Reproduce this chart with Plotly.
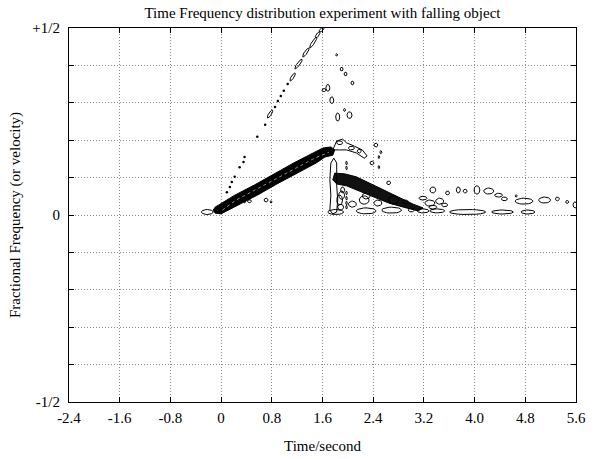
import numpy as np
import plotly.graph_objects as go

# ---------------- data (in axis units) ----------------
x_ticks = [-2.4, -1.6, -0.8, 0, 0.8, 1.6, 2.4, 3.2, 4.0, 4.8, 5.6]
x_tick_text = ["-2.4", "-1.6", "-0.8", "0", "0.8", "1.6", "2.4", "3.2", "4.0", "4.8", "5.6"]
y_ticks = [-0.5, -0.4, -0.3, -0.2, -0.1, 0, 0.1, 0.2, 0.3, 0.4, 0.5]
y_tick_text = ["-1/2", "", "", "", "", "0", "", "", "", "", "+1/2"]

# main rising ridge (outer contour)
ridge_x = [-0.094, 0.215, 0.524, 0.834, 1.144, 1.453, 1.608, 1.732, 1.793,
           1.762, 1.639, 1.500, 1.190, 0.881, 0.571, 0.262, -0.002, -0.094, -0.125, -0.094]
ridge_y = [0.021, 0.053, 0.080, 0.110, 0.139, 0.166, 0.179, 0.182, 0.174,
           0.160, 0.155, 0.139, 0.112, 0.083, 0.053, 0.027, 0.003, 0.005, 0.013, 0.021]
ridge_mid_x = [0.02, 0.238, 0.857, 1.476, 1.70]
ridge_mid_y = [0.013, 0.040, 0.096, 0.152, 0.168]

# descending band after the drop
band_x = [1.793, 1.948, 2.134, 2.335, 2.567, 2.799, 3.031, 3.186,
          3.109, 2.877, 2.644, 2.412, 2.180, 1.979, 1.824, 1.762, 1.793]
band_y = [0.112, 0.110, 0.102, 0.086, 0.067, 0.048, 0.029, 0.019,
          0.011, 0.021, 0.032, 0.048, 0.064, 0.078, 0.083, 0.094, 0.112]

# vertical drop contour
drop_x = [1.732, 1.778, 1.824, 1.824, 1.840, 1.824, 1.762, 1.716, 1.732, 1.716, 1.732]
drop_y = [0.139, 0.152, 0.139, 0.080, 0.040, 0.008, 0.003, 0.013, 0.053, 0.094, 0.139]

# secondary lobe right above the peak
lobe_x = [1.762, 1.824, 1.917, 1.979, 2.103, 2.227, 2.304, 2.258, 2.134, 1.979, 1.871, 1.762]
lobe_y = [0.174, 0.198, 0.203, 0.193, 0.184, 0.174, 0.158, 0.152, 0.166, 0.174, 0.174, 0.174]

# harmonic line: tiny dots
dot_x = [0.091, 0.138, 0.169, 0.215, 0.292, 0.354, 0.370, 0.571, 0.695,
         0.850, 0.896, 0.942, 0.989, 1.051]
dot_y = [0.061, 0.075, 0.088, 0.102, 0.128, 0.142, 0.155, 0.209, 0.241,
         0.289, 0.305, 0.318, 0.332, 0.350]

# harmonic line: elongated diagonal loops (start / end)
seg_x0 = [0.741, 1.097, 1.174, 1.298, 1.407, 1.499, 1.561]
seg_y0 = [0.262, 0.361, 0.393, 0.425, 0.449, 0.476, 0.492]
seg_x1 = [0.803, 1.159, 1.267, 1.376, 1.499, 1.546, 1.608]
seg_y1 = [0.278, 0.377, 0.414, 0.444, 0.473, 0.487, 0.499]

# small closed contours: centre and half extents
loop_xc = [1.824, 1.902, 1.964, 2.072, 1.685, 1.623, 1.747, 1.840, 1.948, 2.026, 2.443,
           2.381, 2.490, 2.490, 2.521,
           1.979, 1.979, 1.979, 1.979, 1.979, 1.979,
           1.871, 2.056, 2.180,
           1.809, 2.289, 2.691, 3.186, 3.411, 3.890, 4.440, 4.842,
           3.341, 3.573, 3.743, 3.851, 4.037, 4.223, 4.378, 4.470, 4.656, 4.780, 5.105,
           5.306, 5.461, 5.585,
           3.186, 3.294, 3.449, 3.341, 3.527,
           2.644, 2.722, 2.258, 1.871, 1.917,
           0.710, 0.788, 0.447, 0.370, -0.218,
           1.902, 1.886, 2.072, 2.289, 2.474, 2.908, 3.000]
loop_yc = [0.428, 0.390, 0.377, 0.353, 0.340, 0.334, 0.307, 0.262, 0.281, 0.267, 0.187,
           0.139, 0.155, 0.128, 0.168,
           0.139, 0.126, 0.059, 0.045, 0.032, 0.021,
           0.193, 0.179, 0.171,
           0.008, 0.011, 0.013, 0.011, 0.011, 0.008, 0.008, 0.008,
           0.067, 0.059, 0.067, 0.064, 0.067, 0.064, 0.053, 0.043, 0.051, 0.037, 0.040,
           0.043, 0.035, 0.027,
           0.045, 0.032, 0.037, 0.021, 0.027,
           0.086, 0.040, 0.040, 0.040, 0.067,
           0.040, 0.035, 0.037, 0.035, 0.008,
           0.053, 0.021, 0.029, 0.051, 0.032, 0.035, 0.013]
loop_xr = [0.016, 0.023, 0.023, 0.023, 0.031, 0.031, 0.031, 0.031, 0.016, 0.039, 0.031,
           0.031, 0.012, 0.012, 0.016,
           0.012, 0.012, 0.012, 0.012, 0.012, 0.012,
           0.046, 0.046, 0.031,
           0.124, 0.155, 0.155, 0.093, 0.117, 0.286, 0.171, 0.108,
           0.046, 0.031, 0.031, 0.031, 0.046, 0.077, 0.062, 0.046, 0.016, 0.139, 0.093,
           0.031, 0.023, 0.031,
           0.062, 0.077, 0.062, 0.062, 0.046,
           0.031, 0.077, 0.077, 0.046, 0.031,
           0.031, 0.016, 0.031, 0.012, 0.093,
           0.046, 0.046, 0.062, 0.062, 0.062, 0.046, 0.046]
loop_yr = [0.003, 0.005, 0.005, 0.005, 0.009, 0.004, 0.009, 0.011, 0.004, 0.009, 0.005,
           0.005, 0.004, 0.004, 0.004,
           0.005, 0.005, 0.005, 0.005, 0.005, 0.005,
           0.005, 0.005, 0.005,
           0.0067, 0.008, 0.008, 0.0053, 0.0053, 0.0067, 0.0053, 0.0053,
           0.008, 0.005, 0.008, 0.005, 0.011, 0.008, 0.005, 0.005, 0.003, 0.008, 0.008,
           0.005, 0.004, 0.008,
           0.005, 0.008, 0.008, 0.005, 0.005,
           0.005, 0.011, 0.011, 0.013, 0.008,
           0.005, 0.003, 0.004, 0.003, 0.0067,
           0.011, 0.008, 0.008, 0.008, 0.008, 0.005, 0.005]

# ---------------- rendering ----------------
X_RANGE = [-2.4, 5.6]
Y_RANGE = [-0.5, 0.5]
PLOT_W, PLOT_H = 517, 374
SX = PLOT_W / (X_RANGE[1] - X_RANGE[0])
SY = PLOT_H / (Y_RANGE[1] - Y_RANGE[0])
T = np.linspace(0, 2 * np.pi, 25)

fig = go.Figure()
LINE = dict(color="black", width=1)

fig.add_trace(go.Scatter(x=ridge_x, y=ridge_y, mode="lines", fill="toself",
                         fillcolor="black", line=LINE, hoverinfo="skip"))
fig.add_trace(go.Scatter(x=ridge_mid_x, y=ridge_mid_y, mode="lines",
                         line=dict(color="rgba(255,255,255,0.55)", width=1, dash="dot"),
                         hoverinfo="skip"))
fig.add_trace(go.Scatter(x=band_x, y=band_y, mode="lines", fill="toself",
                         fillcolor="#111", line=LINE, hoverinfo="skip"))
fig.add_trace(go.Scatter(x=drop_x, y=drop_y, mode="lines", line=LINE, hoverinfo="skip"))
fig.add_trace(go.Scatter(x=lobe_x, y=lobe_y, mode="lines", line=LINE, hoverinfo="skip"))

# small loops
ex, ey = [], []
for xc, yc, xr, yr in zip(loop_xc, loop_yc, loop_xr, loop_yr):
    ex += list(xc + xr * np.cos(T)) + [None]
    ey += list(yc + yr * np.sin(T)) + [None]
fig.add_trace(go.Scatter(x=ex, y=ey, mode="lines", line=LINE, hoverinfo="skip"))

# diagonal elongated loops
dx_, dy_ = [], []
HW = 1.4
for x0, y0, x1, y1 in zip(seg_x0, seg_y0, seg_x1, seg_y1):
    p0 = np.array([x0 * SX, y0 * SY]); p1 = np.array([x1 * SX, y1 * SY])
    c = (p0 + p1) / 2; d = p1 - p0; L = np.linalg.norm(d) / 2 + 1.0
    u = d / np.linalg.norm(d); n = np.array([-u[1], u[0]])
    pts = c[None, :] + np.outer(L * np.cos(T), u) + np.outer(HW * np.sin(T), n)
    dx_ += list(pts[:, 0] / SX) + [None]
    dy_ += list(pts[:, 1] / SY) + [None]
fig.add_trace(go.Scatter(x=dx_, y=dy_, mode="lines", line=LINE, hoverinfo="skip"))

fig.add_trace(go.Scatter(x=dot_x, y=dot_y, mode="markers",
                         marker=dict(symbol="circle", size=2.5, color="black"),
                         hoverinfo="skip"))

FONT = "Liberation Serif"
axis_common = dict(showline=True, linecolor="black", linewidth=1, mirror="ticks",
                   ticks="inside", ticklen=5, tickcolor="black",
                   showgrid=True, gridcolor="#8a8a8a", griddash="1px,2px", gridwidth=1,
                   zeroline=False, tickfont=dict(family=FONT, size=15, color="black"))

fig.update_layout(
    width=598, height=459,
    margin=dict(l=69, r=12, t=28, b=57),
    paper_bgcolor="white", plot_bgcolor="white",
    showlegend=False,
    xaxis=dict(range=X_RANGE, tickvals=x_ticks, ticktext=x_tick_text,
               ticklabelstandoff=2, **axis_common),
    yaxis=dict(range=Y_RANGE, tickvals=y_ticks, ticktext=y_tick_text,
               ticklabelstandoff=5, **axis_common),
    title=dict(text="Time Frequency distribution experiment with falling object",
               font=dict(family=FONT, size=15, color="black"),
               x=0.5, xref="paper", y=1 - 13 / 459, yanchor="middle"),
    annotations=[
        dict(text="Time/second", xref="paper", yref="paper", x=0.5, y=-44 / 374,
             showarrow=False, yanchor="middle",
             font=dict(family=FONT, size=15, color="black")),
        dict(text="Fractional Frequency (or velocity)", xref="paper", yref="paper",
             x=-55 / 517, y=0.5, textangle=-90, showarrow=False, xanchor="center",
             font=dict(family=FONT, size=15, color="black")),
    ],
)

fig.write_html("out.html", config={"displayModeBar": False},
               post_script="document.body.style.margin='0';document.body.style.padding='0';")
